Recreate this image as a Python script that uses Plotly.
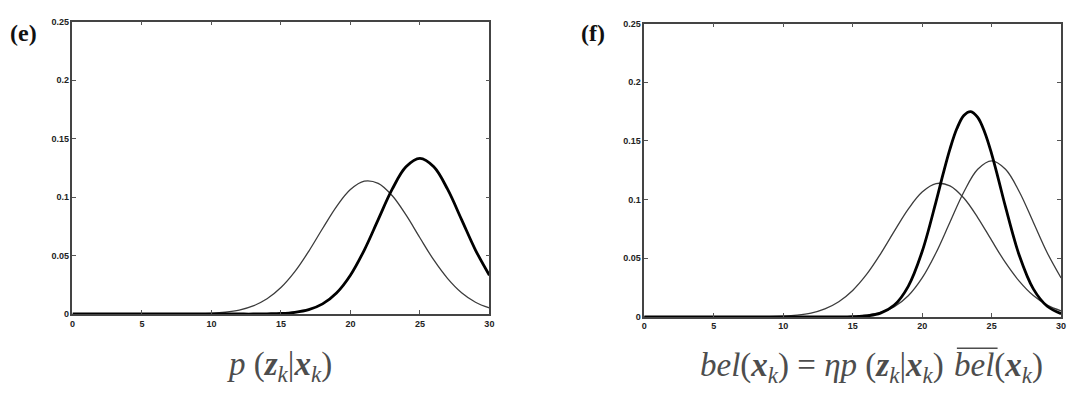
import plotly.graph_objects as go

# Data (x grid 0..30)
x_vals = list(range(0, 31))
prior = [0, 0, 0, 0, 0, 0, 0, 0, 0.0001, 0.0002, 0.0006, 0.0015, 0.0033, 0.0069, 0.0130,
         0.0226, 0.0362, 0.0536, 0.0731, 0.0919, 0.1064, 0.1136, 0.1117, 0.1013, 0.0847,
         0.0652, 0.0462, 0.0303, 0.0182, 0.0101, 0.0052]
measurement = [0, 0, 0, 0, 0, 0, 0, 0, 0, 0, 0, 0, 0, 0, 0.0002,
               0.0005, 0.0015, 0.0038, 0.0087, 0.0180, 0.0332, 0.0547, 0.0807, 0.1065, 0.1258,
               0.1330, 0.1258, 0.1065, 0.0807, 0.0547, 0.0332]
post_x = [0, 2, 4, 6, 8, 10, 12, 14, 15, 16, 17, 18, 19, 20, 21, 21.5, 22, 22.5, 23, 23.5,
          24, 24.5, 25, 25.5, 26, 27, 28, 29, 30]
posterior = [0, 0, 0, 0, 0, 0, 0, 0, 0.0002, 0.0008, 0.0032, 0.0101, 0.0261, 0.0557, 0.0983,
             0.1214, 0.1430, 0.1605, 0.1717, 0.1750, 0.1700, 0.1574, 0.1390, 0.1168, 0.0937,
             0.0521, 0.0239, 0.0091, 0.0028]

x_ticks = [0, 5, 10, 15, 20, 25, 30]
y_ticks = [0, 0.05, 0.1, 0.15, 0.2, 0.25]
y_tick_labels = ["0", "0.05", "0.1", "0.15", "0.2", "0.25"]

THIN = dict(color="#3c3c3c", width=1.3, shape="spline", smoothing=1.0)
THICK = dict(color="#000000", width=2.8, shape="spline", smoothing=1.0)

fig = go.Figure()
# Panel (e)
fig.add_trace(go.Scatter(x=x_vals, y=prior, mode="lines", line=THIN, xaxis="x", yaxis="y", showlegend=False))
fig.add_trace(go.Scatter(x=x_vals, y=measurement, mode="lines", line=THICK, xaxis="x", yaxis="y", showlegend=False))
# Panel (f)
fig.add_trace(go.Scatter(x=x_vals, y=prior, mode="lines", line=THIN, xaxis="x2", yaxis="y2", showlegend=False))
fig.add_trace(go.Scatter(x=x_vals, y=measurement, mode="lines", line=THIN, xaxis="x2", yaxis="y2", showlegend=False))
fig.add_trace(go.Scatter(x=post_x, y=posterior, mode="lines", line=THICK, xaxis="x2", yaxis="y2", showlegend=False))

tickfont = dict(family="Liberation Sans", size=9, color="#222222", weight="bold")
common_x = dict(range=[0, 30], tickvals=x_ticks, ticks="inside", ticklen=4, tickwidth=1,
                tickcolor="#555555", showline=True, linecolor="#444444", linewidth=1.5,
                mirror="ticks", showgrid=False, zeroline=False, tickfont=tickfont)
common_y = dict(range=[0, 0.25], tickvals=y_ticks, ticktext=y_tick_labels, ticks="inside",
                ticklen=4, tickwidth=1, tickcolor="#555555", showline=True, linecolor="#444444",
                linewidth=1.5, mirror="ticks", showgrid=False, zeroline=False, tickfont=tickfont)

W, H = 1080, 397
fig.update_layout(
    width=W, height=H,
    margin=dict(l=0, r=0, t=0, b=0),
    paper_bgcolor="white", plot_bgcolor="white",
    xaxis=dict(domain=[70 / W, 490 / W], anchor="y", **common_x),
    yaxis=dict(domain=[(H - 317) / H, (H - 17) / H], anchor="x", **common_y),
    xaxis2=dict(domain=[646 / W, 1066 / W], anchor="y2", **common_x),
    yaxis2=dict(domain=[(H - 320) / H, (H - 19) / H], anchor="x2", **common_y),
)

label_font = dict(family="Liberation Serif", size=24, color="#111111")
formula_font = dict(family="Liberation Serif", size=33, color="#4d4d4d")
fig.add_annotation(text="<b>(e)</b>", x=21 / W, y=(H - 29) / H, xref="paper", yref="paper",
                   showarrow=False, font=label_font, xanchor="center", yanchor="middle")
fig.add_annotation(text="<b>(f)</b>", x=594 / W, y=(H - 29) / H, xref="paper", yref="paper",
                   showarrow=False, font=label_font, xanchor="center", yanchor="middle")
fig.add_annotation(
    text="<i>p</i> (<b><i>z</i></b><sub><i>k</i></sub>|<b><i>x</i></b><sub><i>k</i></sub>)",
    x=279 / W, y=(H - 371) / H, xref="paper", yref="paper", showarrow=False,
    font=formula_font, xanchor="center", yanchor="middle")
# Formula (f): split so the overline can sit over the second "bel"
split_x = 956
fig.add_annotation(
    text="<i>bel</i>(<b><i>x</i></b><sub><i>k</i></sub>) = <i>ηp</i> (<b><i>z</i></b><sub><i>k</i></sub>|"
         "<b><i>x</i></b><sub><i>k</i></sub>)",
    x=(split_x - 6) / W, y=(H - 372) / H, xref="paper", yref="paper", showarrow=False,
    font=formula_font, xanchor="right", yanchor="middle")
fig.add_annotation(
    text="<i>bel</i>(<b><i>x</i></b><sub><i>k</i></sub>)",
    x=split_x / W, y=(H - 372) / H, xref="paper", yref="paper", showarrow=False,
    font=formula_font, xanchor="left", yanchor="middle")
fig.add_shape(type="line", xref="paper", yref="paper",
              x0=(split_x + 5) / W, x1=(split_x + 46) / W, y0=(H - 352) / H, y1=(H - 352) / H,
              line=dict(color="#4d4d4d", width=1.5))

fig.write_html("out.html", config={"displayModeBar": False},
               post_script="document.body.style.margin='0';")
